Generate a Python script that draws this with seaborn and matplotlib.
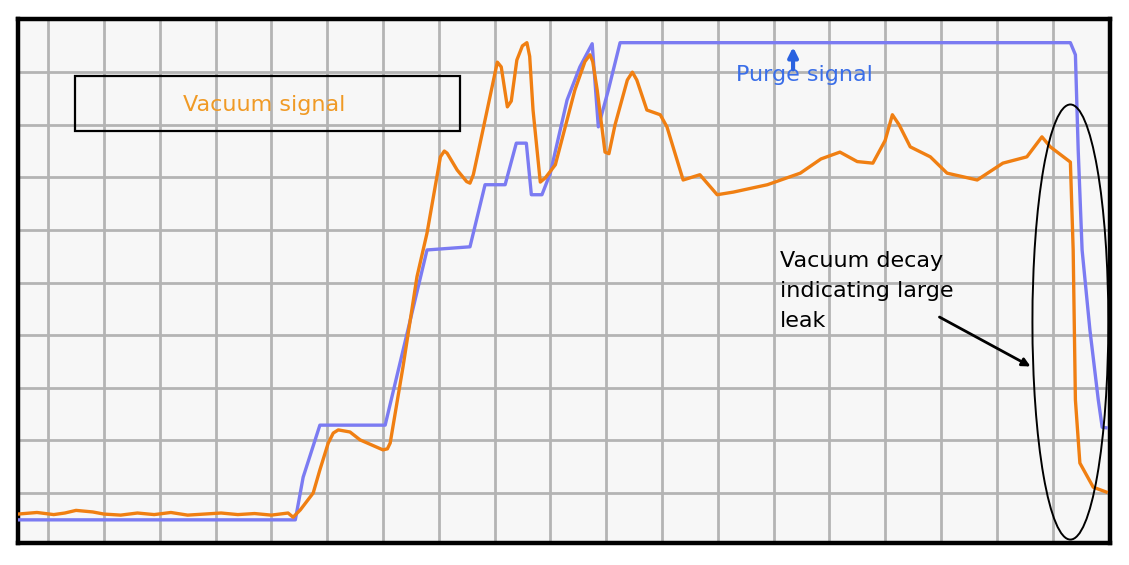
import matplotlib
matplotlib.use('Agg')
import matplotlib.pyplot as plt
from matplotlib.patches import Ellipse, Rectangle
import pandas as pd
import seaborn as sns

# time and signal both in grid divisions
purge_t = [-0.54, 4.43, 4.57, 4.87, 6.04, 6.79, 7.56, 7.83, 8.19, 8.39, 8.57, 8.66, 8.85,
           9.00, 9.30, 9.53, 9.75, 9.86, 10.04, 10.25, 18.32, 18.41, 18.46, 18.53, 18.67,
           18.82, 18.89, 18.96]
purge_v = [-0.51, -0.51, 0.30, 1.29, 1.29, 4.62, 4.68, 5.86, 5.86, 6.65, 6.65, 5.67, 5.67,
           6.08, 7.47, 8.10, 8.54, 6.96, 7.66, 8.56, 8.56, 8.33, 6.52, 4.62, 3.10,
           1.77, 1.25, 1.24]

vac_t = [-0.54, -0.2, 0.1, 0.3, 0.5, 0.8, 1.0, 1.3, 1.6, 1.9, 2.2, 2.5, 2.8, 3.1, 3.4, 3.7,
         4.0, 4.3, 4.39, 4.52, 4.75, 4.87, 5.02, 5.11, 5.20, 5.41, 5.59, 6.00, 6.08, 6.13,
         6.36, 6.61, 6.79, 7.03, 7.10, 7.15, 7.33, 7.50, 7.56, 7.62, 7.78, 8.05, 8.12, 8.23,
         8.30, 8.40, 8.50, 8.58, 8.63, 8.69, 8.82, 8.91, 9.09, 9.44, 9.62, 9.71, 9.76, 9.84,
         9.98, 10.05, 10.16, 10.38, 10.47, 10.55, 10.73, 10.97, 11.09, 11.38, 11.68, 11.99,
         12.28, 12.89, 13.48, 13.85, 14.19, 14.50, 14.78, 15.00, 15.13, 15.25, 15.45, 15.81,
         16.11, 16.65, 17.11, 17.54, 17.81, 17.96, 18.32, 18.37, 18.41, 18.49, 18.73, 18.96]
vac_v = [-0.40, -0.37, -0.41, -0.38, -0.33, -0.36, -0.40, -0.42, -0.38, -0.41, -0.37, -0.42,
         -0.40, -0.38, -0.41, -0.39, -0.42, -0.38, -0.46, -0.32, 0.00, 0.44, 0.95, 1.14, 1.20,
         1.16, 1.01, 0.82, 0.84, 0.95, 2.40, 4.11, 4.94, 6.39, 6.50, 6.46, 6.14, 5.92, 5.89,
         6.05, 6.84, 8.19, 8.10, 7.34, 7.45, 8.23, 8.50, 8.56, 8.30, 7.28, 5.91, 5.99, 6.24,
         7.66, 8.20, 8.33, 8.20, 7.66, 6.48, 6.45, 7.00, 7.85, 8.00, 7.85, 7.28, 7.19, 6.96,
         5.95, 6.05, 5.67, 5.72, 5.86, 6.08, 6.35, 6.48, 6.30, 6.27, 6.70, 7.19, 7.00, 6.58,
         6.39, 6.08, 5.95, 6.27, 6.39, 6.77, 6.58, 6.29, 4.62, 1.77, 0.57, 0.11, 0.02]

purge = pd.DataFrame({'t': purge_t, 'v': purge_v})
vac = pd.DataFrame({'t': vac_t, 'v': vac_v})

fig = plt.figure(figsize=(11.29, 5.65), dpi=100)
ax = fig.add_axes([18 / 1129, 22 / 565, 1092 / 1129, 524 / 565])
ax.set_facecolor('#f7f7f7')

# grid
for gx in range(19):
    ax.axvline(gx, color='#b4b4b4', lw=2, zorder=0)
for gy in range(9):
    ax.axhline(gy, color='#b4b4b4', lw=2, zorder=0)

sns.lineplot(data=purge, x='t', y='v', ax=ax, color='#7b7bf2', lw=2.4, sort=False,
             estimator=None, zorder=3)
sns.lineplot(data=vac, x='t', y='v', ax=ax, color='#f07f12', lw=2.4, sort=False,
             estimator=None, zorder=4)

ax.set_xlim(-0.54, 19.03)
ax.set_ylim(-0.95, 9.01)
ax.set_xticks([])
ax.set_yticks([])
ax.set_xlabel('')
ax.set_ylabel('')
for s in ax.spines.values():
    s.set_linewidth(3.2)
    s.set_color('black')

# labels
ax.add_patch(Rectangle((0.48, 6.89), 6.9, 1.03, fill=False, ec='black', lw=1.6, zorder=5))
ax.text(3.87, 7.38, 'Vacuum signal', color='#f09a25', fontsize=16, ha='center', va='center')
ax.text(13.55, 7.95, 'Purge signal', color='#3a6ee8', fontsize=16, ha='center', va='center')
ax.annotate('', xy=(13.35, 8.53), xytext=(13.35, 8.0),
            arrowprops=dict(arrowstyle='-|>', color='#2a62e0', lw=3, mutation_scale=14),
            zorder=6)

ax.add_patch(Ellipse((18.32, 3.25), 1.36, 8.27, fill=False, ec='black', lw=1.4, zorder=6))
ax.text(13.12, 4.6, 'Vacuum decay\nindicating large\nleak', color='black', fontsize=16,
        ha='left', va='top', linespacing=1.62)
ax.annotate('', xy=(17.65, 2.38), xytext=(15.93, 3.37),
            arrowprops=dict(arrowstyle='-|>', color='black', lw=2, mutation_scale=12),
            zorder=6)

fig.savefig('out.png', dpi=100)
